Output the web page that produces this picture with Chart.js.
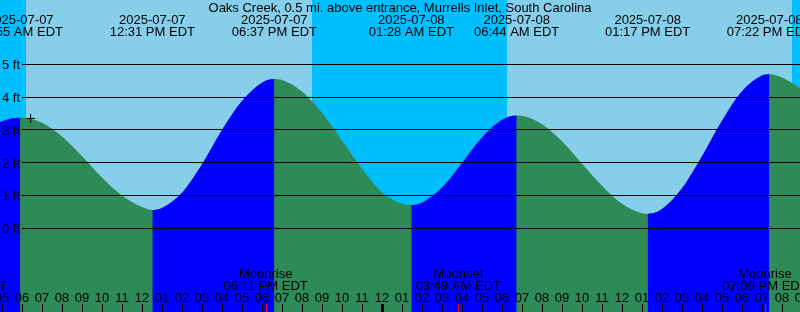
<!DOCTYPE html>
<html><head><meta charset="utf-8">
<script src="https://cdn.jsdelivr.net/npm/chart.js@4/dist/chart.umd.min.js"></script>
<style>html,body{margin:0;padding:0;background:#00BFFF;overflow:hidden}canvas{display:block}</style>
</head><body>
<canvas id="c" width="800" height="312"></canvas>
<script>
// ---- data (hours counted from 2025-07-07 00:00 EDT) ----
const title = "Oaks Creek, 0.5 mi. above entrance, Murrells Inlet, South Carolina";
const tideHours = [4, 5, 5.917, 7, 8, 9, 10, 11, 12, 12.517, 13, 14, 15, 16, 17, 18, 18.617, 19, 20, 21, 22, 23, 24, 25, 25.467, 26, 27, 28, 29, 30, 30.733, 31, 32, 33, 34, 35, 36, 37, 37.283, 38, 39, 40, 41, 42, 43, 43.367, 44, 45, 46];
const tideFeet  = [2.85, 3.26, 3.37, 3.22, 2.80, 2.20, 1.55, 1.00, 0.65, 0.56, 0.62, 1.08, 1.95, 3.00, 3.88, 4.44, 4.55, 4.52, 4.17, 3.52, 2.68, 1.82, 1.10, 0.75, 0.71, 0.78, 1.24, 1.99, 2.77, 3.31, 3.44, 3.43, 3.17, 2.65, 1.97, 1.30, 0.75, 0.46, 0.44, 0.59, 1.22, 2.20, 3.28, 4.18, 4.66, 4.70, 4.60, 4.22, 3.60];
const eventHours = [5.917, 12.517, 18.617, 25.467, 30.733, 37.283, 43.367];
const eventDates = ["2025-07-07","2025-07-07","2025-07-07","2025-07-08","2025-07-08","2025-07-08","2025-07-08"];
const eventTimes = ["05:55 AM EDT","12:31 PM EDT","06:37 PM EDT","01:28 AM EDT","06:44 AM EDT","01:17 PM EDT","07:22 PM EDT"];
const moonHours = [3.12, 18.183, 27.817, 43.15];
const moonNames = ["Moonset","Moonrise","Moonset","Moonrise"];
const moonTimes = ["03:07 AM EDT","06:11 PM EDT","03:49 AM EDT","07:09 PM EDT"];
const sunriseHours = [6.2, 30.25];
const sunsetHours = [20.5, 44.5];
const footTicks = [0, 1, 2, 3, 4, 5];
const footLabels = ["0 ft","1 ft","2 ft","3 ft","4 ft","5 ft"];
const hourTicks = [5,6,7,8,9,10,11,12,13,14,15,16,17,18,19,20,21,22,23,24,25,26,27,28,29,30,31,32,33,34,35,36,37,38,39,40,41,42,43,44,45];
const hourLabels = ["05","06","07","08","09","10","11","12","01","02","03","04","05","06","07","08","09","10","11","12","01","02","03","04","05","06","07","08","09","10","11","12","01","02","03","04","05","06","07","08","09"];
const markHours = [6.43];
const markFeet = [3.35];

// ---- styles ----
const NIGHT = '#00BFFF', DAY = '#87CEEB', RISE = '#0000FF', FALL = '#2E8B57', NONE = 'rgba(0,0,0,0)';
const FONT = '13px "Liberation Sans", Arial, sans-serif';

const tidePlugin = {
  id: 'tide',
  beforeDraw(chart) {
    const {ctx, width, height} = chart;
    const x = chart.scales.x;
    ctx.save();
    ctx.fillStyle = NIGHT;
    ctx.fillRect(0, 0, width, height);
    ctx.fillStyle = DAY;
    for (let i = 0; i < sunriseHours.length; i++) {
      const a = Math.round(x.getPixelForValue(sunriseHours[i]));
      const b = Math.round(x.getPixelForValue(sunsetHours[i]));
      ctx.fillRect(a, 0, b - a, height);
    }
    ctx.restore();
  },
  afterDatasetsDraw(chart) {
    const {ctx, width, height} = chart;
    const x = chart.scales.x, y = chart.scales.y;
    ctx.save();
    ctx.strokeStyle = '#000';
    ctx.lineWidth = 1;
    footTicks.forEach(v => {
      const py = Math.floor(y.getPixelForValue(v)) + 0.5;
      ctx.beginPath(); ctx.moveTo(22, py); ctx.lineTo(width, py); ctx.stroke();
    });
    ctx.font = FONT;
    ctx.fillStyle = '#000';
    ctx.textAlign = 'right';
    ctx.textBaseline = 'alphabetic';
    footTicks.forEach((v, i) => {
      const py = y.getPixelForValue(v);
      ctx.fillText(footLabels[i], 20, Math.round(py) + 5);
    });
    ctx.textAlign = 'center';
    ctx.fillText(title, 400, 12);
    eventHours.forEach((h, i) => {
      const px = x.getPixelForValue(h);
      ctx.fillText(eventDates[i], px, 24);
      ctx.fillText(eventTimes[i], px, 36);
    });
    moonHours.forEach((h, i) => {
      const px = x.getPixelForValue(h);
      ctx.fillText(moonNames[i], px, 278);
      ctx.fillText(moonTimes[i], px, 290);
    });
    hourTicks.forEach((h, i) => {
      const px = Math.round(x.getPixelForValue(h));
      ctx.fillStyle = '#000';
      ctx.fillText(hourLabels[i], px, 302);
      if (h % 24 === 0) ctx.fillRect(px - 1, 304, 3, height - 304);
      else ctx.fillRect(px, 304, 1, height - 304);
    });
    ctx.fillStyle = '#FF0000';
    moonHours.forEach(h => {
      const px = Math.round(x.getPixelForValue(h));
      ctx.fillRect(px, 304, 1, height - 304);
    });
    ctx.restore();
  }
};

const tidePoints = tideHours.map((h, i) => ({x: h, y: tideFeet[i]}));

new Chart(document.getElementById('c'), {
  type: 'line',
  data: {
    datasets: [
      {
        // whole water body (falling colour underneath)
        type: 'line',
        data: tidePoints,
        borderColor: NONE,
        borderWidth: 0,
        pointRadius: 0,
        cubicInterpolationMode: 'monotone',
        fill: 'start',
        backgroundColor: FALL,
        order: 3
      },
      {
        // rising stretches painted on top
        type: 'line',
        data: tidePoints,
        borderColor: NONE,
        borderWidth: 0,
        pointRadius: 0,
        cubicInterpolationMode: 'monotone',
        fill: 'start',
        backgroundColor: RISE,
        segment: {
          backgroundColor: c => (c.p1.parsed.y > c.p0.parsed.y ? RISE : NONE),
          borderColor: () => NONE
        },
        order: 2
      },
      {
        type: 'scatter',
        data: markHours.map((h, i) => ({x: h, y: markFeet[i]})),
        pointStyle: 'cross',
        pointRadius: 4.5,
        borderColor: '#000',
        backgroundColor: '#000',
        borderWidth: 1,
        showLine: false,
        order: 1
      }
    ]
  },
  options: {
    responsive: false,
    animation: false,
    devicePixelRatio: 1,
    events: [],
    layout: {padding: 0, autoPadding: false},
    plugins: {legend: {display: false}, tooltip: {enabled: false}, title: {display: false}},
    scales: {
      x: {type: 'linear', min: 4.9, max: 44.9, display: false},
      y: {type: 'linear', min: -2.552, max: 6.96, display: false}
    }
  },
  plugins: [tidePlugin]
});
</script>
</body></html>
